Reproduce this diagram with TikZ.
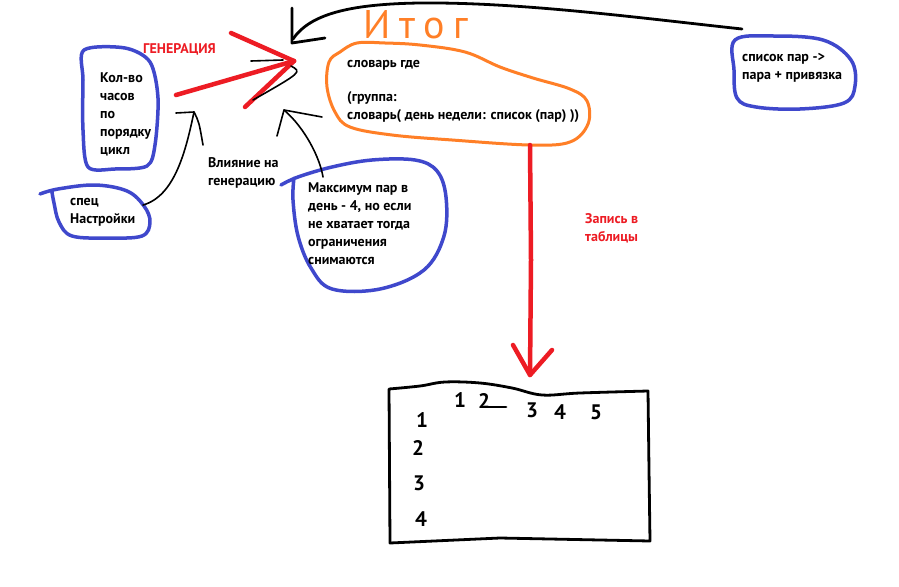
\documentclass[tikz,border=0pt]{standalone}
\usepackage{fontspec}
\setmainfont{PT Sans}
\definecolor{pblue}{RGB}{63,72,204}
\definecolor{porange}{RGB}{255,127,39}
\definecolor{pred}{RGB}{237,28,36}
\begin{document}
\begin{tikzpicture}[x=1pt,y=-1pt,
  blueblob/.style={draw=pblue,line width=3.5pt,line join=round,line cap=round},
  orangeblob/.style={draw=porange,line width=3pt,line join=round,line cap=round},
  lbl/.style={font=\bfseries\fontsize{14}{18}\selectfont,align=left,inner sep=0pt,anchor=base west},
  redlbl/.style={lbl,text=pred},
  pen/.style={draw=black,line width=1.6pt,line cap=round,line join=round},
  thickpen/.style={draw=black,line width=2.8pt,line cap=round,line join=round},
  redpen/.style={draw=pred,line width=4.5pt,line cap=round,line join=round},
  digit/.style={font=\bfseries\fontsize{21}{21}\selectfont,inner sep=0pt,anchor=base}
]
\useasboundingbox[fill=white] (0,0) rectangle (899,586);

% ---------- blobs ----------
\draw[blueblob] plot[smooth cycle,tension=0.5] coordinates {(84,50) (125,48) (150,62) (158,98) (155,145) (147,166) (115,169) (88,167) (83,130) (83,80)};
\draw[blueblob] plot[smooth,tension=0.6] coordinates {(40,194) (58,189) (95,185) (127,191) (144,206) (150,222) (142,236) (108,238) (72,236) (59,222) (54,203) (52,192)};
\draw[blueblob] plot[smooth,tension=0.6] coordinates {(281,185) (298,177) (332,167) (372,160) (415,160) (437,171) (446,197) (444,236) (424,270) (380,289) (332,289) (311,268) (298,236) (293,200) (294,178)};
\draw[blueblob] plot[smooth cycle,tension=0.6] coordinates {(735,40) (772,36) (823,40) (851,60) (855,86) (844,103) (800,109) (756,107) (737,98) (734,70)};
\draw[orangeblob] plot[smooth cycle,tension=0.6] coordinates {(357,43) (340,52) (329,62) (327,87) (335,112) (350,127) (392,135) (452,140) (530,145) (570,142) (588,124) (587,101) (570,89) (533,78) (500,67) (465,52) (420,45) (385,43)};

% ---------- texts (anchor = baseline of last line) ----------
\node[lbl] (kolvo) at (100,154) {Кол-во\\часов\\по\\порядку\\цикл};
\node[redlbl] (gen) at (143,53) {ГЕНЕРАЦИЯ};
\node[lbl] (spec) at (70,223) {спец\\Настройки};
\node[lbl] (vliyanie) at (208,185) {Влияние на\\генерацию};
\node[lbl] (maks) at (308,264) {Максимум пар в\\день - 4, но если\\не хватает тогда\\ограничения\\снимаются};
\node[lbl] (slovar) at (347,119) {словарь где\\[16pt](группа:\\словарь( день недели: список (пар) ))};
\node[lbl] (spisok) at (742,80) {список пар ->\\пара + привязка};
\node[redlbl] (zapis) at (585,241) {Запись в\\таблицы};
\node[font=\fontsize{40}{40}\selectfont\addfontfeature{LetterSpace=22},text=porange,inner sep=0pt,anchor=base west] (itog) at (363,38) {Итог};

% ---------- top black arrow ----------
\coordinate (itogtip) at (293,39);
\coordinate (spisokstart) at (742,29);
\draw[thickpen] (spisokstart) .. controls (640,18) and (520,2) .. (420,3) .. controls (350,4) and (310,14) .. (itogtip);
\draw[thickpen] (292,8) -- (292,43) -- (325,38);

% ---------- red generation arrow ----------
\coordinate (gentip) at (294,61);
\draw[redpen] (231,33) -- (gentip);
\draw[redpen] (176,95) -- (gentip);
\draw[redpen] (245,107) -- (gentip);
\draw[pen] (251,61) -- (283,60);
\draw[pen] (291,66) .. controls (302,72) .. (253,100);

% ---------- influence arrows ----------
\coordinate (vtip) at (194,112);
\draw[pen] (143,205) .. controls (175,196) and (186,150) .. (vtip);
\draw[pen] (176,113) -- (vtip) .. controls (199,122) .. (203,145);
\coordinate (mtip) at (284,110);
\draw[pen] (323,177) .. controls (320,158) and (305,128) .. (mtip);
\draw[pen] (322,117) -- (mtip) -- (277,136);

% ---------- red down arrow ----------
\coordinate (tabtip) at (530,375);
\draw[redpen] (530,145) -- (531,260) -- (tabtip);
\draw[redpen] (513,345) -- (tabtip) -- (552,350);

% ---------- table ----------
\draw[thickpen] plot[smooth,tension=0.6] coordinates {(389,389) (420,386) (445,382) (480,383) (512,388) (542,395) (580,393) (648,391)} -- (649,470) -- (650,541) -- (500,538) -- (390,543) -- cycle;
\node[digit] (c1) at (460,407) {1};
\node[digit] (c2) at (484,408) {2};
\draw[thickpen] (488,407) -- (506,407);
\node[digit] (c3) at (532,417) {3};
\node[digit] (c4) at (560,419) {4};
\node[digit] (c5) at (596,419) {5};
\node[digit] (r1) at (422,427) {1};
\node[digit] (r2) at (418,455) {2};
\node[digit] (r3) at (419,490) {3};
\node[digit] (r4) at (421,526) {4};
\end{tikzpicture}
\end{document}
